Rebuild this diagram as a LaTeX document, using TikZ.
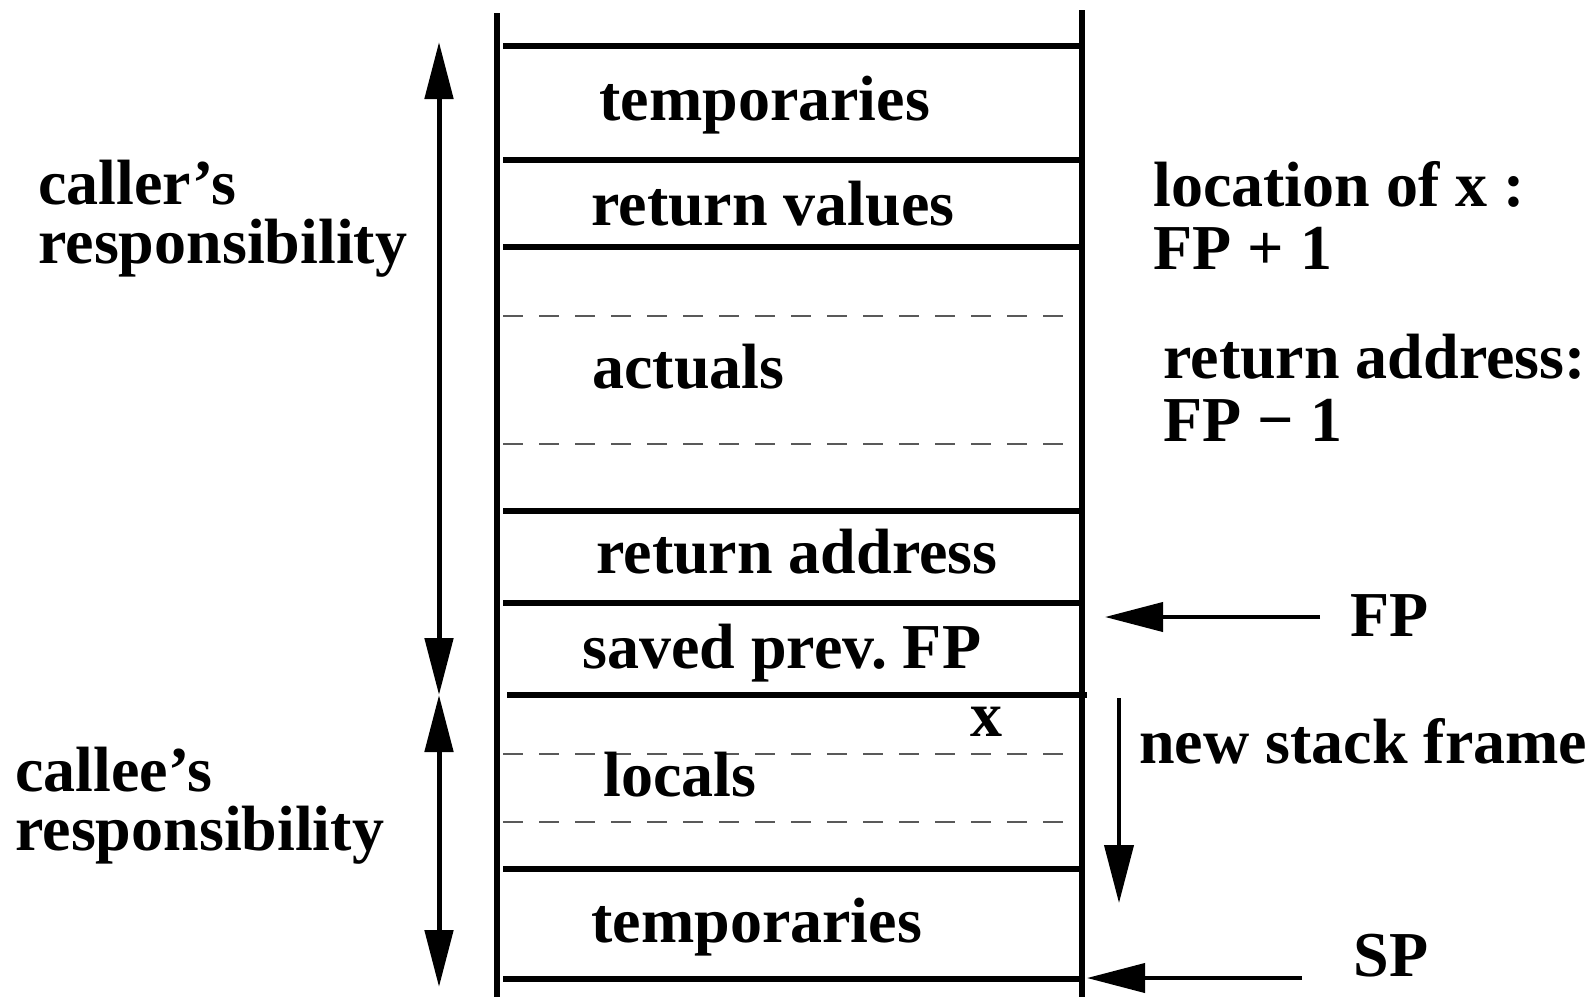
\documentclass[tikz,border=0pt]{standalone}
\usepackage{fontspec}
\setmainfont{Liberation Serif}
\usetikzlibrary{arrows.meta}
\frenchspacing
\begin{document}
\begin{tikzpicture}[x=0.5pt,y=-0.5pt,
  frame/.style={line width=2.7pt},
  slot/.style={line width=0.8pt,draw=black!65,dash pattern=on 10pt off 8pt},
  span/.style={line width=2.5pt,{Triangle[length=28.5pt,width=14pt]}-{Triangle[length=28.5pt,width=14pt]}},
  pointer/.style={line width=2pt,-{Triangle[length=29pt,width=14.5pt]}},
  lbl/.style={inner sep=0pt,anchor=base west,font=\fontsize{32}{38}\selectfont\bfseries}]
\useasboundingbox (0,0) rectangle (1595,997);

% stack walls
\coordinate (wlt) at (497,13);  \coordinate (wlb) at (497,997);
\coordinate (wrt) at (1082,10); \coordinate (wrb) at (1082,997);
\draw[frame] (wlt) -- (wlb);
\draw[frame] (wrt) -- (wrb);

% solid slot boundaries
\foreach \n/\y in {a/46,b/160,c/247,d/511,e/603,g/869,h/979}{
  \coordinate (\n l) at (503,\y); \coordinate (\n r) at (1080,\y);
  \draw[frame] (\n l) -- (\n r);
}
\coordinate (fl) at (507,695); \coordinate (fr) at (1087,695);
\draw[frame] (fl) -- (fr);

% dashed sub-slots
\foreach \n/\y in {p/316,q/444,s/754,t/822}{
  \coordinate (\n l) at (503,\y); \coordinate (\n r) at (1073,\y);
  \draw[slot] (\n l) -- (\n r);
}

% slot contents
\node[lbl] (temp1) at (599,120) {temporaries};
\node[lbl] (retv)  at (591,225) {return values};
\node[lbl] (act)   at (592,388) {actuals};
\node[lbl] (reta)  at (596,573) {return address};
\node[lbl] (sfp)   at (582,668) {saved prev. FP};
\node[lbl] (xv)    at (970,736) {x};
\node[lbl] (loc)   at (603,796) {locals};
\node[lbl] (temp2) at (591,942) {temporaries};

% responsibilities
\node[lbl] (cr1) at (38,204) {caller’s};
\node[lbl] (cr2) at (38,263) {responsibility};
\node[lbl] (ce1) at (15,791) {callee’s};
\node[lbl] (ce2) at (15,850) {responsibility};
\coordinate (s1) at (439,42);
\coordinate (s2) at (439,695);
\coordinate (s3) at (439,987);
\draw[span] (s1) -- (s2);
\draw[span] (s2) -- (s3);

% notes on the right
\node[lbl] (n1) at (1153,206) {location of x :};
\node[lbl] (n2) at (1153,269) {FP + 1};
\node[lbl] (n3) at (1163,378) {return address:};
\node[lbl] (n4) at (1163,441) {FP − 1};
\node[lbl] (nsf) at (1139,763) {new stack frame};
\node[lbl] (fp) at (1350,636) {FP};
\node[lbl] (sp) at (1353,976) {SP};

% pointers
\coordinate (fpa) at (1320,617); \coordinate (fpb) at (1105,617);
\coordinate (spa) at (1302,978); \coordinate (spb) at (1087,978);
\coordinate (nfa) at (1119,698); \coordinate (nfb) at (1119,903);
\draw[pointer] (fpa) -- (fpb);
\draw[pointer] (spa) -- (spb);
\draw[pointer] (nfa) -- (nfb);
\end{tikzpicture}
\end{document}
